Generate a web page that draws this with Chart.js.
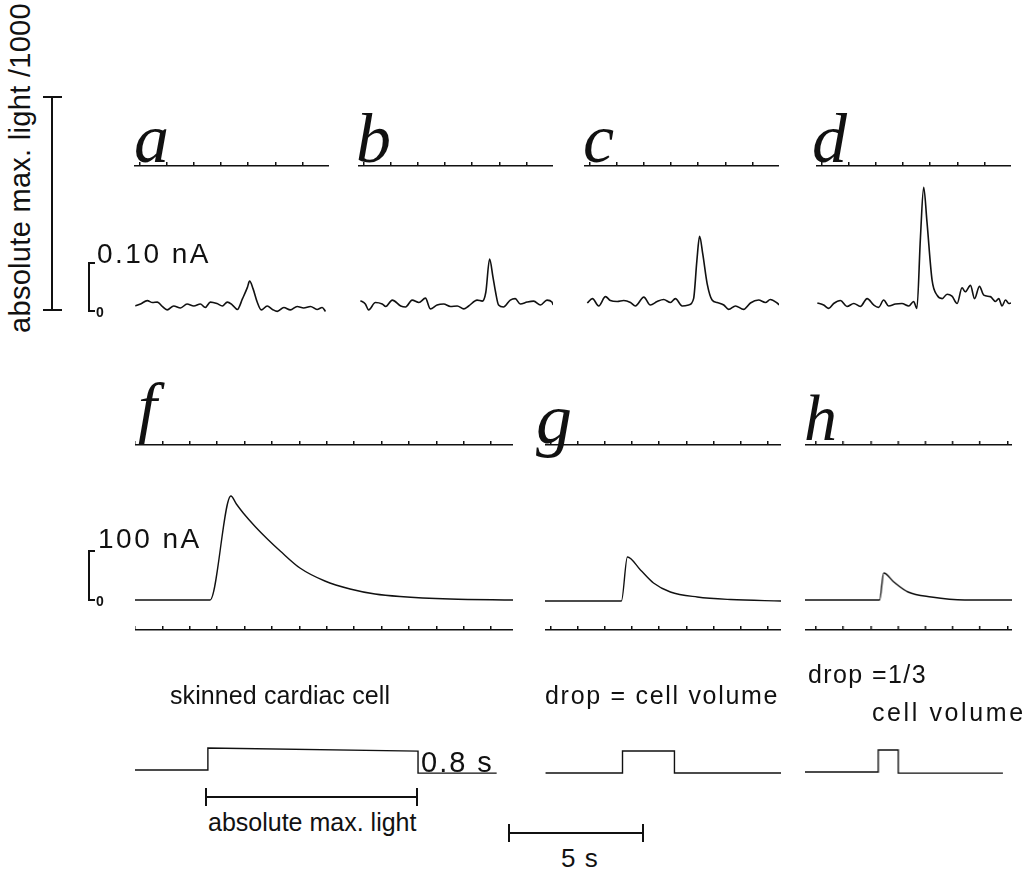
<!DOCTYPE html>
<html>
<head>
<meta charset="utf-8">
<script src="https://cdn.jsdelivr.net/npm/chart.js@4.4.0/dist/chart.umd.min.js"></script>
<style>
  html, body { margin: 0; padding: 0; background: #fff; }
  #page { position: relative; width: 1031px; height: 871px; overflow: hidden; background: #fff; }
  .panel { position: absolute; }
  .lbl { position: absolute; white-space: nowrap; line-height: 1; color: #111;
         font-family: "Liberation Sans", Arial, sans-serif; }
  .bar { position: absolute; background: #111; }
</style>
</head>
<body>
<div id="page"></div>
<script>
// ---- data: time (s) and current (nA) ----
const aTimes = [-0.15, 0.04, 0.29, 0.48, 0.66, 0.84, 1.02, 1.26, 1.51, 1.75, 2.00, 2.24, 2.42, 2.61, 2.85, 3.05, 3.23, 3.42, 3.60, 3.79, 3.97, 4.05, 4.18, 4.33, 4.48, 4.70, 4.89, 5.07, 5.31, 5.55, 5.80, 6.04, 6.29, 6.53, 6.72, 6.84];
const aValues = [0.000, 0.004, 0.011, 0.007, 0.008, -0.001, -0.008, 0.000, -0.004, 0.004, 0.000, 0.004, -0.003, 0.008, 0.005, 0.000, 0.008, 0.002, -0.007, 0.015, 0.038, 0.051, 0.035, 0.008, -0.008, 0.000, -0.007, -0.011, -0.003, -0.008, -0.001, -0.004, -0.001, -0.007, -0.003, -0.011];

const bTimes = [-0.11, 0.07, 0.19, 0.44, 0.69, 0.82, 1.06, 1.37, 1.55, 1.79, 2.04, 2.28, 2.46, 2.71, 2.95, 3.20, 3.45, 3.69, 3.87, 4.18, 4.37, 4.50, 4.64, 4.76, 4.86, 4.97, 5.15, 5.40, 5.58, 5.77, 6.02, 6.26, 6.51, 6.75, 6.93, 6.98];
const bValues = [0.009, 0.002, -0.010, 0.005, 0.002, -0.003, 0.010, -0.002, -0.004, 0.010, 0.005, 0.014, -0.008, 0.000, 0.002, -0.003, -0.002, -0.008, -0.002, 0.010, 0.008, 0.026, 0.094, 0.058, 0.026, 0.000, -0.004, 0.010, 0.013, 0.002, 0.006, 0.008, 0.000, 0.010, 0.006, 0.000];

const cTimes = [-0.08, 0.11, 0.34, 0.59, 0.77, 1.02, 1.26, 1.51, 1.69, 2.00, 2.24, 2.49, 2.73, 2.98, 3.16, 3.41, 3.65, 3.83, 3.95, 4.05, 4.17, 4.33, 4.51, 4.70, 4.94, 5.12, 5.37, 5.67, 5.92, 6.22, 6.47, 6.65, 6.90, 6.98];
const cValues = [0.000, 0.009, -0.006, 0.013, 0.005, 0.003, 0.005, 0.001, -0.006, 0.012, -0.004, 0.003, 0.007, 0.001, 0.009, -0.006, -0.004, 0.009, 0.086, 0.136, 0.099, 0.039, 0.006, 0.001, -0.004, -0.013, -0.006, -0.013, 0.000, 0.006, 0.001, 0.007, 0.000, -0.004];

const dTimes = [-0.15, 0.08, 0.27, 0.45, 0.70, 0.94, 1.19, 1.43, 1.68, 1.92, 2.10, 2.29, 2.47, 2.72, 2.96, 3.21, 3.39, 3.51, 3.64, 3.76, 3.88, 4.07, 4.25, 4.44, 4.62, 4.80, 4.99, 5.17, 5.29, 5.48, 5.63, 5.81, 5.97, 6.21, 6.40, 6.52, 6.64, 6.77, 6.89, 6.97];
const dValues = [0.000, -0.004, -0.011, -0.001, 0.005, -0.007, -0.001, -0.007, 0.009, -0.004, -0.009, 0.006, -0.006, -0.002, -0.001, -0.006, 0.003, -0.011, 0.133, 0.236, 0.166, 0.046, 0.016, 0.009, 0.018, 0.014, -0.001, 0.031, 0.023, 0.036, 0.009, 0.034, 0.016, 0.013, 0.003, 0.009, -0.006, 0.006, -0.001, 0.000];

const fTimes = [0, 2.74, 3.50, 3.70, 3.95, 4.40, 4.85, 5.30, 6.02, 6.93, 7.85, 8.76, 9.67, 11.5, 13.8];
const fValues = [0, 0, 208, 192, 174, 146, 121, 98, 64, 38, 22, 12, 7, 2, 0];

const gTimes = [-0.2, 2.61, 2.83, 3.31, 3.79, 4.41, 5.40, 6.62, 8.5];
const gValues = [0, 0, 88, 62, 36, 18, 8, 3, 0];

const hTimes = [-0.4, 2.33, 2.48, 2.85, 3.37, 4.22, 5.44, 7.2];
const hValues = [0, 0, 54, 36, 16, 6, 0, 0];

// light pulse (relative level)
const fPulseTimes = [0, 2.66, 2.66, 10.33, 10.33, 13.2];
const fPulseLevels = [0, 0, 1, 0.86, -0.14, -0.14];
const gPulseTimes = [-0.18, 2.65, 2.65, 4.56, 4.56, 8.5];
const gPulseLevels = [0, 0, 1, 1, 0, 0];
const hPulseTimes = [-0.51, 2.28, 2.28, 3.01, 3.01, 6.84];
const hPulseLevels = [0, 0, 1, 1, -0.05, -0.05];

// ---- layout ----
const page = document.getElementById("page");
const TICK_LEN = 4;
const INK = "#111";

function makeChart(p) {
  const width = (p.tMax - p.tMin) * p.pxPerS;
  const div = document.createElement("div");
  div.className = "panel";
  div.style.left = (p.t0X - (0 - p.tMin) * p.pxPerS) + "px";
  div.style.top = (p.tickY - TICK_LEN) + "px";
  div.style.width = width + "px";
  div.style.height = (p.bottomY - p.tickY + TICK_LEN) + "px";
  const canvas = document.createElement("canvas");
  div.appendChild(canvas);
  page.appendChild(div);

  const yMin = -(p.bottomY - p.zeroY) / p.pxPerUnit;
  const yMax = (p.zeroY - p.tickY) / p.pxPerUnit;

  new Chart(canvas, {
    type: "line",
    data: {
      datasets: [{
        data: p.times.map((t, i) => ({ x: t, y: p.values[i] })),
        borderColor: INK,
        borderWidth: p.lineWidth,
        pointRadius: 0,
        fill: false,
        clip: false,
        tension: p.step ? 0 : 0.4,
        cubicInterpolationMode: p.step ? "default" : "monotone"
      }]
    },
    options: {
      responsive: true,
      maintainAspectRatio: false,
      animation: false,
      layout: { padding: 0, autoPadding: false },
      plugins: { legend: { display: false }, tooltip: { enabled: false } },
      scales: {
        x: {
          type: "linear",
          position: "top",
          min: p.tMin,
          max: p.tMax,
          ticks: { display: false, stepSize: 1, includeBounds: false },
          grid: { drawOnChartArea: false, drawTicks: true, tickLength: TICK_LEN, color: INK, lineWidth: 1.5 },
          border: { display: true, color: INK, width: 1.5 }
        },
        y: { display: false, min: yMin, max: yMax }
      }
    }
  });
}

const topRow = { tickY: 166, bottomY: 314, pxPerUnit: 490, pxPerS: 27.2, tMin: -0.2, tMax: 7.0, lineWidth: 1.6 };
makeChart({ ...topRow, t0X: 139, zeroY: 306, times: aTimes, values: aValues });
makeChart({ ...topRow, t0X: 363, zeroY: 305, times: bTimes, values: bValues });
makeChart({ ...topRow, t0X: 589, zeroY: 303, times: cTimes, values: cValues });
makeChart({ ...topRow, t0X: 821, zeroY: 303, times: dTimes, values: dValues });

const midRow = { tickY: 445, bottomY: 610, pxPerUnit: 0.5, lineWidth: 1.4 };
makeChart({ ...midRow, t0X: 135, pxPerS: 27.4, tMin: 0, tMax: 13.8, zeroY: 600, times: fTimes, values: fValues });
makeChart({ ...midRow, t0X: 550, pxPerS: 27.2, tMin: -0.2, tMax: 8.5, zeroY: 601, times: gTimes, values: gValues });
makeChart({ ...midRow, t0X: 816, pxPerS: 27.2, tMin: -0.4, tMax: 7.2, zeroY: 600, times: hTimes, values: hValues });

const pulseRow = { tickY: 630, bottomY: 790, pxPerUnit: 22, lineWidth: 1.4, step: true };
makeChart({ ...pulseRow, t0X: 135, pxPerS: 27.4, tMin: 0, tMax: 13.8, zeroY: 770, times: fPulseTimes, values: fPulseLevels });
makeChart({ ...pulseRow, t0X: 550, pxPerS: 27.2, tMin: -0.2, tMax: 8.5, zeroY: 773, times: gPulseTimes, values: gPulseLevels });
makeChart({ ...pulseRow, t0X: 816, pxPerS: 27.2, tMin: -0.4, tMax: 7.2, zeroY: 772, times: hPulseTimes, values: hPulseLevels });

// ---- text ----
function addText(txt, x, baseline, size, opts = {}) {
  const el = document.createElement("div");
  el.className = "lbl";
  el.textContent = txt;
  const asc = opts.serif ? 0.8375 : 0.8465;
  el.style.left = x + "px";
  el.style.top = (baseline - asc * size) + "px";
  el.style.fontSize = size + "px";
  if (opts.serif) {
    el.style.fontFamily = '"Liberation Serif", "DejaVu Serif", serif';
    el.style.fontStyle = "italic";
  }
  if (opts.spacing) el.style.letterSpacing = opts.spacing + "px";
  if (opts.bold) el.style.fontWeight = "bold";
  page.appendChild(el);
}

addText("a", 134, 163, 70, { serif: true });
addText("b", 356, 163, 70, { serif: true });
addText("c", 583, 163, 70, { serif: true });
addText("d", 812, 163, 70, { serif: true });
addText("f", 138, 430, 68, { serif: true });
addText("g", 536, 443, 72, { serif: true });
addText("h", 804, 440, 66, { serif: true });

addText("0.10 nA", 97, 264, 28, { spacing: 2.5 });
addText("0", 96, 317, 14, { bold: true });
addText("100 nA", 98, 549, 28, { spacing: 2.5 });
addText("0", 96, 606, 14, { bold: true });

addText("skinned cardiac cell", 170, 704, 25, { spacing: 0.1 });
addText("drop = cell volume", 545, 704, 25, { spacing: 1.7 });
addText("drop =1/3", 808, 683, 25, { spacing: 1.4 });
addText("cell volume", 872, 721, 25, { spacing: 2.6 });
addText("0.8 s", 421, 773, 29, { spacing: 2 });
addText("absolute max. light", 208, 831, 25, { spacing: 0 });
addText("5 s", 561, 867, 26, { spacing: 1 });

const rot = document.createElement("div");
rot.className = "lbl";
rot.textContent = "absolute max. light /1000";
rot.style.fontSize = "29px";
rot.style.letterSpacing = "0.3px";
rot.style.left = "20px";
rot.style.top = "168px";
rot.style.transform = "translate(-50%, -50%) rotate(-90deg)";
page.appendChild(rot);

// ---- scale bars ----
function addBar(x, y, w, h) {
  const el = document.createElement("div");
  el.className = "bar";
  el.style.left = x + "px";
  el.style.top = y + "px";
  el.style.width = w + "px";
  el.style.height = h + "px";
  page.appendChild(el);
}
// vertical light bar
addBar(51, 97, 2, 214);
addBar(43, 96, 19, 2);
addBar(43, 309, 19, 2);
// 0.10 nA bracket
addBar(88, 262, 2, 50);
addBar(88, 262, 7, 1.5);
addBar(88, 310, 7, 1.5);
// 100 nA bracket
addBar(88, 550, 2, 51);
addBar(88, 550, 7, 1.5);
addBar(88, 599, 7, 1.5);
// absolute max. light bar
addBar(206, 796, 211, 2);
addBar(205, 788, 2, 18);
addBar(416, 788, 2, 18);
// 5 s bar
addBar(509, 832, 134, 2);
addBar(508, 824, 2, 18);
addBar(642, 824, 2, 18);
</script>
</body>
</html>
